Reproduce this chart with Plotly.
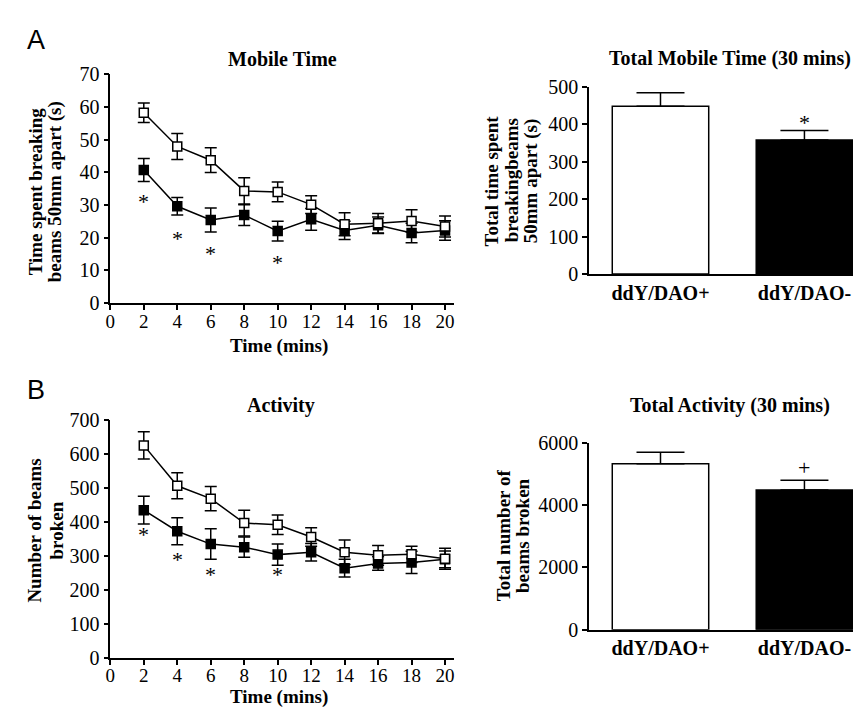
import plotly.graph_objects as go

# ---------------- data ----------------
time_mins = [2, 4, 6, 8, 10, 12, 14, 16, 18, 20]

mobile_dao_pos = [58.2, 47.9, 43.7, 34.3, 34.0, 30.1, 24.1, 24.4, 25.1, 23.4]
mobile_dao_pos_sem = [3.0, 4.0, 3.8, 4.0, 3.0, 2.7, 3.5, 3.0, 3.4, 3.2]
mobile_dao_neg = [40.7, 29.6, 25.4, 26.9, 22.0, 25.6, 22.2, 23.8, 21.4, 22.2]
mobile_dao_neg_sem = [3.5, 2.7, 3.7, 3.2, 3.0, 3.3, 2.8, 2.5, 3.0, 3.0]
mobile_sig_x = [2, 4, 6, 10]
mobile_sig_y = [31, 19.7, 15, 12.5]

activity_dao_pos = [626, 507, 469, 397, 392, 356, 311, 302, 305, 292]
activity_dao_pos_sem = [40, 38, 36, 38, 29, 27, 36, 29, 24, 31]
activity_dao_neg = [435, 373, 335, 326, 304, 311, 264, 278, 281, 290]
activity_dao_neg_sem = [41, 40, 45, 30, 31, 26, 26, 20, 33, 25]
activity_sig_x = [2, 4, 6, 10]
activity_sig_y = [362, 290, 245, 245]

groups = ["ddY/DAO+", "ddY/DAO-"]
total_mobile = [448, 358]
total_mobile_sem = [36, 25]
total_mobile_sig = ["", "*"]
total_mobile_sig_y = [0, 404]

total_activity = [5320, 4480]
total_activity_sem = [370, 310]
total_activity_sig = ["", "+"]
total_activity_sig_y = [0, 5190]

mobile_yticks = [0, 10, 20, 30, 40, 50, 60, 70]
activity_yticks = [0, 100, 200, 300, 400, 500, 600, 700]
time_xticks = [0, 2, 4, 6, 8, 10, 12, 14, 16, 18, 20]
total_mobile_yticks = [0, 100, 200, 300, 400, 500]
total_activity_yticks = [0, 2000, 4000, 6000]

# ---------------- layout helpers ----------------
W, H = 861, 716
def px(x):
    return x / W
def py(y):
    return 1 - y / H

SERIF = "Liberation Serif"
FONT = dict(family=SERIF, size=20, color="black")
XFONT = dict(family=SERIF, size=19, color="black")

fig = go.Figure()

def line_traces(xa, ya, pos, pos_sem, neg, neg_sem):
    fig.add_trace(go.Scatter(
        x=time_mins, y=neg, xaxis=xa, yaxis=ya, mode="lines+markers",
        line=dict(color="black", width=1.5),
        marker=dict(symbol="square", size=9, color="black",
                    line=dict(color="black", width=1.5)),
        error_y=dict(type="data", array=neg_sem, color="black",
                     thickness=1.5, width=6),
        showlegend=False, cliponaxis=False))
    fig.add_trace(go.Scatter(
        x=time_mins, y=pos, xaxis=xa, yaxis=ya, mode="lines+markers",
        line=dict(color="black", width=1.5),
        marker=dict(symbol="square", size=9, color="white",
                    line=dict(color="black", width=1.5)),
        error_y=dict(type="data", array=pos_sem, color="black",
                     thickness=1.5, width=6),
        showlegend=False, cliponaxis=False))

def bar_trace(xa, ya, vals, sems):
    fig.add_trace(go.Bar(
        x=[0, 1], y=vals, xaxis=xa, yaxis=ya, width=0.67,
        marker=dict(color=["white", "black"],
                    line=dict(color="black", width=1.5)),
        error_y=dict(type="data", symmetric=False, array=sems,
                     arrayminus=[0, 0], color="black", thickness=1.5,
                     width=24),
        showlegend=False))

line_traces("x", "y", mobile_dao_pos, mobile_dao_pos_sem,
            mobile_dao_neg, mobile_dao_neg_sem)
bar_trace("x2", "y2", total_mobile, total_mobile_sem)
line_traces("x3", "y3", activity_dao_pos, activity_dao_pos_sem,
            activity_dao_neg, activity_dao_neg_sem)
bar_trace("x4", "y4", total_activity, total_activity_sem)

axis_common = dict(showline=True, linecolor="black", linewidth=1.5,
                   showgrid=False, zeroline=False, tickfont=FONT,
                   ticks="outside", ticklen=5, tickwidth=1.5,
                   tickcolor="black", fixedrange=True)

left_x_dom = [px(98), px(444)]
right_x_dom = [px(580), px(857)]

fig.update_layout(
    width=W, height=H, margin=dict(l=0, r=0, t=0, b=0),
    paper_bgcolor="white", plot_bgcolor="white", showlegend=False,
    font=FONT,
    xaxis=dict(axis_common, domain=left_x_dom, range=[0, 20.53],
               tickvals=time_xticks, anchor="y", ticklabelstandoff=-5,
               tickfont=XFONT),
    yaxis=dict(axis_common, domain=[py(293), py(57)], range=[0, 70],
               tickvals=mobile_yticks, anchor="x"),
    xaxis2=dict(axis_common, domain=right_x_dom, range=[-0.497, 1.414],
                tickvals=[0, 1], ticktext=["<b>%s</b>" % g for g in groups],
                ticks="", anchor="y2"),
    yaxis2=dict(axis_common, domain=[py(263), py(70)], range=[0, 500],
                tickvals=total_mobile_yticks, anchor="x2"),
    xaxis3=dict(axis_common, domain=left_x_dom, range=[0, 20.53],
                tickvals=time_xticks, anchor="y3", ticklabelstandoff=-5,
                tickfont=XFONT),
    yaxis3=dict(axis_common, domain=[py(659), py(414)], range=[0, 700],
                tickvals=activity_yticks, anchor="x3"),
    xaxis4=dict(axis_common, domain=right_x_dom, range=[-0.497, 1.414],
                tickvals=[0, 1], ticktext=["<b>%s</b>" % g for g in groups],
                ticks="", anchor="y4"),
    yaxis4=dict(axis_common, domain=[py(630), py(437)], range=[0, 6000],
                tickvals=total_activity_yticks, anchor="x4"),
)

ann = []
def paper_text(text, x, y, size=20, angle=0, family=SERIF):
    ann.append(dict(text=text, x=px(x), y=py(y), xref="paper", yref="paper",
                    showarrow=False, xanchor="center", yanchor="middle",
                    textangle=angle, font=dict(family=family, size=size,
                                               color="black")))

# panel letters
paper_text("A", 23, 22, size=27, family="Liberation Sans")
paper_text("B", 23, 383, size=27, family="Liberation Sans")
# titles
paper_text("<b>Mobile Time</b>", 271, 41)
paper_text("<b>Total Mobile Time (30 mins)</b>", 722, 41)
paper_text("<b>Activity</b>", 270, 399)
paper_text("<b>Total Activity (30 mins)</b>", 722, 399)
# x titles
paper_text("<b>Time (mins)</b>", 268, 337, size=19)
paper_text("<b>Time (mins)</b>", 268, 699, size=19)
# y titles
paper_text("<b>Time spent breaking</b>", 23, 178, size=19, angle=-90)
paper_text("<b>beams 50mm apart (s)</b>", 42, 178, size=19, angle=-90)
paper_text("<b>Number of beams</b>", 22, 528, size=19, angle=-90)
paper_text("<b>broken</b>", 44, 528, size=19, angle=-90)
paper_text("<b>Total time spent</b>", 482, 167, size=19, angle=-90)
paper_text("<b>breakingbeams</b>", 502, 167, size=19, angle=-90)
paper_text("<b>50mm apart (s)</b>", 522, 167, size=19, angle=-90)
paper_text("<b>Total number of</b>", 494, 533, size=19, angle=-90)
paper_text("<b>beams broken</b>", 513, 533, size=19, angle=-90)

# significance markers
for sx, sy in zip(mobile_sig_x, mobile_sig_y):
    ann.append(dict(text="*", x=sx, y=sy, xref="x", yref="y",
                    showarrow=False, yanchor="middle",
                    font=dict(family=SERIF, size=22, color="black")))
for sx, sy in zip(activity_sig_x, activity_sig_y):
    ann.append(dict(text="*", x=sx, y=sy, xref="x3", yref="y3",
                    showarrow=False, yanchor="middle",
                    font=dict(family=SERIF, size=22, color="black")))
for i, (t, sy) in enumerate(zip(total_mobile_sig, total_mobile_sig_y)):
    if t:
        ann.append(dict(text=t, x=i, y=sy, xref="x2", yref="y2",
                        showarrow=False, yanchor="middle",
                        font=dict(family=SERIF, size=22, color="black")))
for i, (t, sy) in enumerate(zip(total_activity_sig, total_activity_sig_y)):
    if t:
        ann.append(dict(text=t, x=i, y=sy, xref="x4", yref="y4",
                        showarrow=False, yanchor="middle",
                        font=dict(family=SERIF, size=22, color="black")))

fig.update_layout(annotations=ann)
fig.write_html("out.html")
